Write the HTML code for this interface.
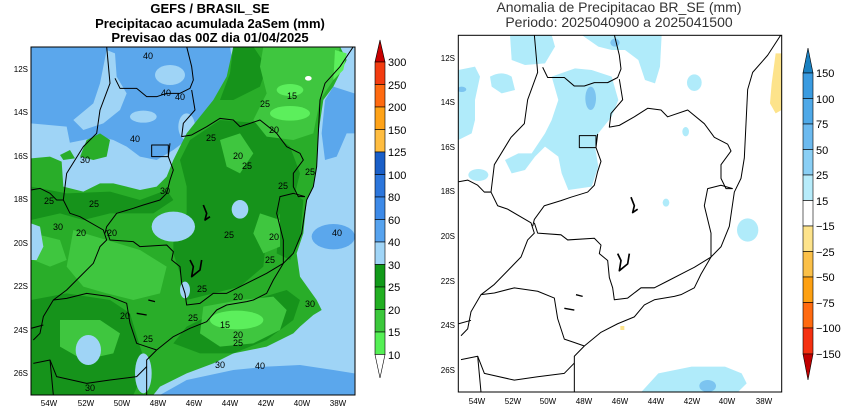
<!DOCTYPE html>
<html><head><meta charset="utf-8"><style>
body{margin:0;background:#fff;}
svg{display:block;font-family:"Liberation Sans",sans-serif;}
.lb{font-size:8px;fill:#000;}
.cl{font-size:9px;fill:#000;}
</style></head><body>
<svg width="850" height="413" viewBox="0 0 850 413" xmlns="http://www.w3.org/2000/svg">
<defs>
<clipPath id="cL"><rect x="31" y="47" width="324" height="348"/></clipPath>
<clipPath id="cR"><rect x="458.3" y="35" width="323.4" height="357"/></clipPath>
<g id="b" fill="none" stroke="#000" stroke-width="3" stroke-linejoin="round">
<path d="M320,140 L330,250 L300,330 L290,400 L250,440 L200,520 L190,600 L210,640 L240,650 L310,690 L320,720 L300,740 L280,790 L240,830 L200,870 L160,900 L130,950 L120,1000 L100,1020"/>
<path d="M345,235 L360,265 L410,265 L440,290 L470,290 L500,280 L540,280 L570,265 L580,240 L575,200 L560,140"/>
<path d="M575,270 L585,330 L550,370 L545,410 L575,405 L620,380 L660,355 L700,360 L720,380 L780,360 L830,400 L860,440 L900,460 L910,480 L880,520 L880,560 L895,590 L915,590"/>
<path d="M455,435 H505 V470 H455 Z"/>
<path d="M510,430 L505,470 L520,510 L510,540 L500,580 L480,600 L430,615 L400,625 L350,640 L320,680 L315,700"/>
<path d="M320,690 L330,720 L400,725 L420,740 L500,735 L520,755 L515,780 L540,800 L545,850 L555,880 L560,915 L600,910 L640,880 L680,880 L720,860 L780,830 L800,820 L850,790 L850,720 L830,640 L840,590 L880,580 L915,590"/>
<path d="M1060,140 L1020,200 L975,250 L960,300 L955,400 L950,500 L940,560 L920,600 L905,700 L880,760 L850,790 L820,840 L800,880 L760,900 L740,905 L680,915 L650,930 L620,965 L570,985 L520,1010 L470,1050 L440,1080 L440,1185"/>
<path d="M160,900 L200,895 L260,880 L330,890 L380,910 L390,970 L410,1030 L440,1040 L470,1050"/>
<path d="M100,1090 L150,1080 L170,1130 L260,1150 L330,1140 L410,1130 L440,1100"/>
<path d="M93,570 L120,565 L150,580 L170,600 L190,600"/>
<path d="M93,985 L130,975"/>
<path d="M150,1080 L160,1185"/>
<path d="M610,615 L620,640 L615,660 L630,650" stroke-width="5"/>
<path d="M570,780 L580,800 L575,830 L600,810 L605,780" stroke-width="5"/>
<path d="M445,900 L465,905 M410,940 L440,945" stroke-width="4"/>
</g>
</defs>

<text x="210" y="13" text-anchor="middle" font-size="13" font-weight="bold">GEFS / BRASIL_SE</text>
<text x="210" y="28" text-anchor="middle" font-size="13" font-weight="bold">Precipitacao acumulada 2aSem (mm)</text>
<text x="210" y="42" text-anchor="middle" font-size="13" font-weight="bold">Previsao das 00Z dia 01/04/2025</text>

<g clip-path="url(#cL)">
<rect x="31" y="47" width="324" height="348" fill="#9fd4f6"/>
<g transform="scale(0.33333)">
<path fill="#5ba7ec" d="M93,140 H690 L700,200 L650,300 L600,380 L560,420 L520,450 L470,480 L420,470 L380,440 L340,420 L300,410 L250,420 L200,430 L150,420 L93,440 Z"/>
<path fill="#9fd4f6" d="M320,150 L345,160 L350,230 L380,280 L360,330 L310,370 L250,390 L220,360 L280,310 L300,250 Z"/>
<ellipse cx="510" cy="225" rx="45" ry="30" fill="#9fd4f6"/>
<ellipse cx="430" cy="350" rx="40" ry="18" fill="#9fd4f6"/>
<path fill="#9fd4f6" d="M93,370 L200,380 L210,430 L93,450 Z"/>
<ellipse cx="560" cy="380" rx="25" ry="40" fill="#9fd4f6"/>
<path fill="#5ba7ec" d="M1063,280 L1000,260 L975,300 L965,400 L975,480 L1010,470 L1040,400 L1063,400 Z"/>
<ellipse cx="1000" cy="710" rx="65" ry="38" fill="#5ba7ec"/>
<path fill="#5ba7ec" d="M480,1185 L560,1140 L700,1110 L800,1100 L900,1095 L1000,1110 L1063,1120 V1185 Z"/>
<path fill="#29ad29" d="M700,140 L1020,140 L1040,180 L1000,260 L970,300 L955,400 L950,500 L940,560 L920,600 L910,700 L890,760 L900,830 L950,900 L965,930 L940,945 L900,980 L880,1000 L800,1040 L700,1060 L640,1090 L560,1120 L480,1160 L460,1185 L93,1185 L93,475 L150,470 L185,485 L190,560 L250,575 L300,550 L340,550 L380,560 L420,570 L470,560 L500,530 L520,480 L540,440 L560,400 L600,350 L640,300 L680,230 Z"/>
<path fill="#29ad29" d="M240,470 L260,420 L300,400 L330,420 L320,470 L280,480 Z"/>
<path fill="#29ad29" d="M180,465 L210,450 L225,475 L190,480 Z"/>
<path fill="#16931b" d="M570,420 L660,360 L780,370 L870,440 L900,520 L880,600 L840,640 L800,700 L790,800 L720,860 L640,880 L560,900 L540,820 L520,760 L520,700 L560,640 L560,560 L540,480 Z"/>
<path fill="#16931b" d="M93,560 L200,580 L330,575 L420,600 L500,570 L520,600 L460,640 L330,640 L250,660 L180,640 L93,660 Z"/>
<path fill="#16931b" d="M93,900 L200,880 L330,900 L390,940 L420,1040 L440,1100 L400,1185 L93,1185 Z"/>
<path fill="#16931b" d="M700,140 L760,140 L800,200 L780,260 L700,300 L660,300 L690,220 Z"/>
<path fill="#16931b" d="M850,560 L910,600 L900,720 L870,780 L830,760 L840,640 Z"/>
<path fill="#16931b" d="M560,980 L680,920 L760,900 L860,870 L900,900 L880,960 L800,1020 L700,1060 L600,1060 L520,1030 Z"/>
<path fill="#3fc63f" d="M790,140 H1020 L1000,240 L960,300 L940,400 L880,420 L800,410 L760,360 L800,280 L780,200 Z"/>
<ellipse cx="870" cy="340" rx="60" ry="22" fill="#5cef5c"/>
<ellipse cx="870" cy="270" rx="40" ry="18" fill="#5cef5c"/>
<path fill="#5cef5c" d="M1005,150 L1040,160 L1030,210 L1000,240 Z"/>
<path fill="#3fc63f" d="M610,920 L720,900 L820,890 L860,930 L840,990 L760,1030 L660,1040 L600,1000 Z"/>
<ellipse cx="710" cy="960" rx="80" ry="28" fill="#5cef5c"/>
<path fill="#3fc63f" d="M220,690 L320,720 L420,750 L500,800 L480,880 L400,900 L320,880 L250,860 L200,800 Z"/>
<path fill="#3fc63f" d="M100,700 L180,720 L200,780 L150,800 L100,780 Z"/>
<path fill="#3fc63f" d="M180,960 L300,960 L360,1000 L340,1060 L250,1080 L180,1040 Z"/>
<path fill="#3fc63f" d="M660,420 L720,400 L760,460 L720,520 L680,500 Z"/>
<path fill="#3fc63f" d="M780,640 L840,660 L840,740 L790,760 L760,700 Z"/>
<ellipse cx="520" cy="680" rx="65" ry="45" fill="#9fd4f6"/>
<ellipse cx="720" cy="628" rx="25" ry="28" fill="#9fd4f6"/>
<path fill="#9fd4f6" d="M93,670 L120,680 L130,740 L110,780 L93,780 Z"/>
<ellipse cx="265" cy="1050" rx="38" ry="45" fill="#9fd4f6"/>
<ellipse cx="430" cy="1120" rx="25" ry="60" fill="#9fd4f6"/>
<ellipse cx="555" cy="870" rx="15" ry="25" fill="#9fd4f6"/>
<ellipse cx="925" cy="235" rx="10" ry="7" fill="#fff"/>
</g>
<use href="#b" transform="scale(0.33333)"/>
</g>
<rect x="31" y="47" width="324" height="348" fill="none" stroke="#000" stroke-width="1"/>
<g class="cl" text-anchor="middle">
<text x="148" y="59">40</text><text x="166" y="96">40</text><text x="180" y="100">40</text>
<text x="135" y="142">40</text><text x="85" y="163">30</text><text x="165" y="194">30</text>
<text x="49" y="204">25</text><text x="94" y="207">25</text><text x="58" y="230">30</text>
<text x="81" y="236">20</text><text x="112" y="236">20</text><text x="292" y="99">15</text>
<text x="265" y="107">25</text><text x="274" y="133">20</text><text x="211" y="141">25</text>
<text x="238" y="159">20</text><text x="247" y="169">25</text><text x="310" y="175">25</text>
<text x="283" y="189">25</text><text x="229" y="238">25</text><text x="274" y="240">20</text>
<text x="337" y="236">40</text><text x="270" y="263">25</text><text x="202" y="292">25</text>
<text x="238" y="300">20</text><text x="310" y="307">30</text><text x="125" y="319">20</text>
<text x="193" y="321">25</text><text x="225" y="328">15</text><text x="238" y="338">20</text>
<text x="238" y="346">25</text><text x="148" y="342">25</text><text x="220" y="368">30</text>
<text x="260" y="369">40</text><text x="90" y="391">30</text>
</g>
<g class="lb" text-anchor="end">
<text x="28" y="72">12S</text><text x="28" y="115">14S</text><text x="28" y="159">16S</text>
<text x="28" y="202">18S</text><text x="28" y="246">20S</text><text x="28" y="289">22S</text>
<text x="28" y="333">24S</text><text x="28" y="376">26S</text>
</g>
<g class="lb" text-anchor="middle">
<text x="49" y="406">54W</text><text x="86" y="406">52W</text><text x="122" y="406">50W</text>
<text x="158" y="406">48W</text><text x="194" y="406">46W</text><text x="230" y="406">44W</text>
<text x="266" y="406">42W</text><text x="302" y="406">40W</text><text x="338" y="406">38W</text>
</g>

<g stroke="#000" stroke-width="0.6">
<polygon points="375,62 385,62 380,40" fill="#c80000"/>
<rect x="375" y="62" width="10" height="22.5" fill="#f33c10"/>
<rect x="375" y="84.5" width="10" height="22.5" fill="#ff6a10"/>
<rect x="375" y="107" width="10" height="22.5" fill="#ffa318"/>
<rect x="375" y="129.5" width="10" height="22.5" fill="#ffbd40"/>
<rect x="375" y="152" width="10" height="22.5" fill="#1a5fc8"/>
<rect x="375" y="174.5" width="10" height="22.5" fill="#2c76dc"/>
<rect x="375" y="197" width="10" height="22.5" fill="#3d8ae8"/>
<rect x="375" y="219.5" width="10" height="22.5" fill="#56a3ef"/>
<rect x="375" y="242" width="10" height="22.5" fill="#a0d5f7"/>
<rect x="375" y="264.5" width="10" height="22.5" fill="#119a19"/>
<rect x="375" y="287" width="10" height="22.5" fill="#22af22"/>
<rect x="375" y="309.5" width="10" height="22.5" fill="#3bc83b"/>
<rect x="375" y="332" width="10" height="22.5" fill="#55f055"/>
<polygon points="375,354.5 385,354.5 380,378" fill="#fff"/>
</g>
<g font-size="11" fill="#000">
<text x="388" y="66">300</text><text x="388" y="89">250</text><text x="388" y="111">200</text>
<text x="388" y="134">150</text><text x="388" y="156">125</text><text x="388" y="179">100</text>
<text x="388" y="201">80</text><text x="388" y="224">60</text><text x="388" y="246">40</text>
<text x="388" y="269">30</text><text x="388" y="291">25</text><text x="388" y="314">20</text>
<text x="388" y="336">15</text><text x="388" y="359">10</text>
</g>

<text x="619" y="12" text-anchor="middle" font-size="14" fill="#333">Anomalia de Precipitacao BR_SE (mm)</text>
<text x="619" y="27" text-anchor="middle" font-size="14" fill="#333">Periodo: 2025040900 a 2025041500</text>

<g clip-path="url(#cR)">
<rect x="458" y="35" width="324" height="357" fill="#fff"/>
<g transform="translate(425,0) scale(0.33333)">
<path fill="#b0ebfa" d="M255,105 H380 L390,140 L360,190 L300,195 L260,180 Z"/>
<path fill="#b0ebfa" d="M470,105 H710 L705,200 L690,250 L660,240 L640,180 L600,150 L560,150 L520,140 Z"/>
<path fill="#b0ebfa" d="M100,210 L150,200 L165,230 L150,300 L150,360 L140,400 L100,420 Z"/>
<path fill="#b0ebfa" d="M195,230 Q230,210 260,230 L270,270 L230,280 L200,260 Z"/>
<path fill="#b0ebfa" d="M380,230 L450,205 L500,210 L560,230 L580,300 L560,350 L520,400 L510,440 L520,500 L500,560 L430,570 L410,520 L400,470 L360,440 L330,470 L300,510 L260,520 L240,480 L280,460 L320,460 L360,400 L380,360 L400,300 Z"/>
<ellipse cx="160" cy="525" rx="30" ry="18" fill="#b0ebfa"/>
<ellipse cx="808" cy="248" rx="22" ry="25" fill="#b0ebfa"/>
<ellipse cx="782" cy="395" rx="10" ry="14" fill="#b0ebfa"/>
<ellipse cx="723" cy="608" rx="10" ry="12" fill="#b0ebfa"/>
<ellipse cx="968" cy="690" rx="32" ry="35" fill="#b0ebfa"/>
<path fill="#b0ebfa" d="M650,1175 L700,1120 L800,1100 L900,1100 L950,1120 L965,1150 L940,1175 Z"/>
<ellipse cx="497" cy="295" rx="16" ry="35" fill="#7cc4f0"/>
<ellipse cx="848" cy="1158" rx="25" ry="18" fill="#7cc4f0"/>
<ellipse cx="570" cy="128" rx="14" ry="12" fill="#7cc4f0"/>
<ellipse cx="110" cy="268" rx="14" ry="8" fill="#7cc4f0"/>
<path fill="#fde38b" d="M1052,160 L1070,160 L1070,330 L1052,340 L1035,310 L1040,250 Z"/>
<rect x="586" y="978" width="12" height="12" fill="#fde38b"/>
</g>
<g transform="translate(425,0) scale(0.33333)"><use href="#b" transform="translate(8,-39.4) scale(1,1.026)"/></g>
</g>
<rect x="458.3" y="35.3" width="323.4" height="356.7" fill="none" stroke="#000" stroke-width="1"/>
<g class="lb" text-anchor="end">
<text x="455" y="61">12S</text><text x="455" y="105">14S</text><text x="455" y="150">16S</text>
<text x="455" y="194">18S</text><text x="455" y="239">20S</text><text x="455" y="284">22S</text>
<text x="455" y="328">24S</text><text x="455" y="373">26S</text>
</g>
<g class="lb" text-anchor="middle">
<text x="477" y="404">54W</text><text x="513" y="404">52W</text><text x="548" y="404">50W</text>
<text x="584" y="404">48W</text><text x="620" y="404">46W</text><text x="656" y="404">44W</text>
<text x="692" y="404">42W</text><text x="727" y="404">40W</text><text x="764" y="404">38W</text>
</g>

<g stroke="#000" stroke-width="0.6">
<polygon points="803,73 813,73 808,48" fill="#1a80c0"/>
<rect x="803" y="73" width="10" height="25.5" fill="#3a9be0"/>
<rect x="803" y="98.5" width="10" height="25.5" fill="#4fa9e8"/>
<rect x="803" y="124" width="10" height="25.5" fill="#6cbaef"/>
<rect x="803" y="149.5" width="10" height="25.5" fill="#8acff5"/>
<rect x="803" y="175" width="10" height="25.5" fill="#b7ecfb"/>
<rect x="803" y="200.5" width="10" height="25.5" fill="#fff"/>
<rect x="803" y="226" width="10" height="25.5" fill="#fde38b"/>
<rect x="803" y="251.5" width="10" height="25.5" fill="#fbc048"/>
<rect x="803" y="277" width="10" height="25.5" fill="#fda012"/>
<rect x="803" y="302.5" width="10" height="25.5" fill="#ff6a10"/>
<rect x="803" y="328" width="10" height="26" fill="#f53010"/>
<polygon points="803,354 813,354 808,380" fill="#c00000"/>
</g>
<g font-size="11" fill="#000">
<text x="816" y="77">150</text><text x="816" y="103">100</text><text x="816" y="128">75</text>
<text x="816" y="154">50</text><text x="816" y="179">25</text><text x="816" y="205">15</text>
<text x="816" y="230">−15</text><text x="816" y="256">−25</text><text x="816" y="281">−50</text>
<text x="816" y="307">−75</text><text x="816" y="332">−100</text><text x="816" y="358">−150</text>
</g>
</svg>
</body></html>
